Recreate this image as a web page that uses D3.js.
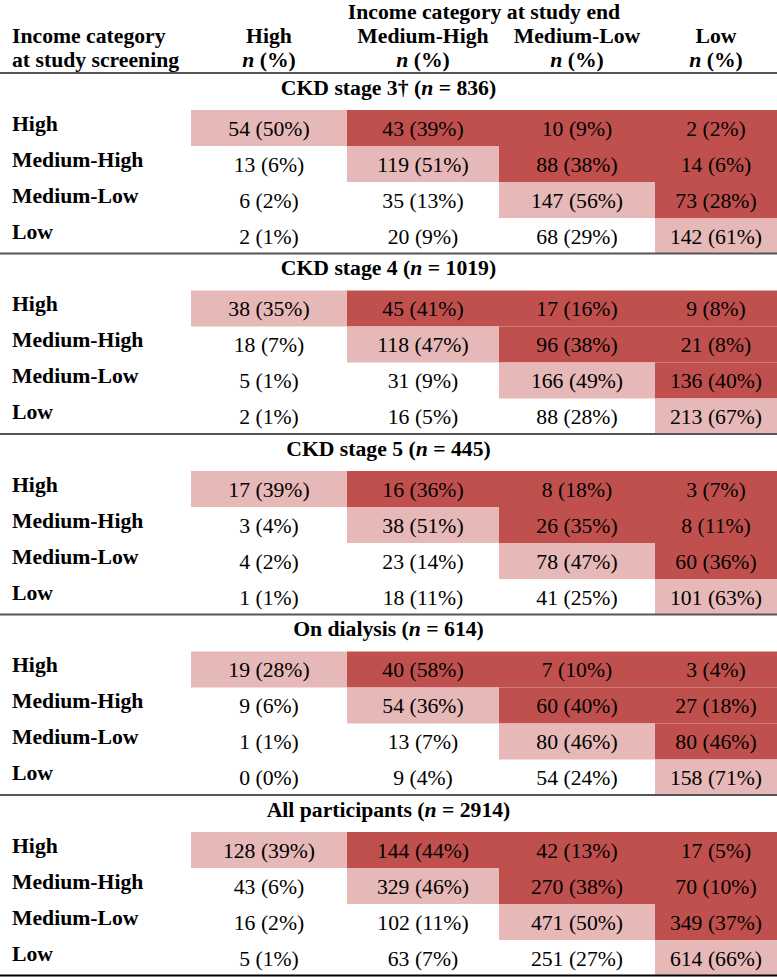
<!DOCTYPE html>
<html>
<head>
<meta charset="utf-8">
<script src="https://cdn.jsdelivr.net/npm/d3@7/dist/d3.min.js"></script>
<style>
  html, body { margin: 0; padding: 0; background: #fff; }
  svg { display: block; }
  text { font-family: "Liberation Serif", "Times New Roman", serif; fill: #000; }
</style>
</head>
<body>
<svg id="chart" width="777" height="977"></svg>
<script>
// ---------- data ----------
const colCategories = ["High", "Medium-High", "Medium-Low", "Low"];
const rowCategories = ["High", "Medium-High", "Medium-Low", "Low"];
const groupNames = ["CKD stage 3\u2020", "CKD stage 4", "CKD stage 5", "On dialysis", "All participants"];
const groupN = [836, 1019, 445, 614, 2914];

const countsStage3 = [[54, 43, 10, 2], [13, 119, 88, 14], [6, 35, 147, 73], [2, 20, 68, 142]];
const pctStage3    = [[50, 39, 9, 2], [6, 51, 38, 6], [2, 13, 56, 28], [1, 9, 29, 61]];
const countsStage4 = [[38, 45, 17, 9], [18, 118, 96, 21], [5, 31, 166, 136], [2, 16, 88, 213]];
const pctStage4    = [[35, 41, 16, 8], [7, 47, 38, 8], [1, 9, 49, 40], [1, 5, 28, 67]];
const countsStage5 = [[17, 16, 8, 3], [3, 38, 26, 8], [4, 23, 78, 60], [1, 18, 41, 101]];
const pctStage5    = [[39, 36, 18, 7], [4, 51, 35, 11], [2, 14, 47, 36], [1, 11, 25, 63]];
const countsDialysis = [[19, 40, 7, 3], [9, 54, 60, 27], [1, 13, 80, 80], [0, 9, 54, 158]];
const pctDialysis    = [[28, 58, 10, 4], [6, 36, 40, 18], [1, 7, 46, 46], [0, 4, 24, 71]];
const countsAll = [[128, 144, 42, 17], [43, 329, 270, 70], [16, 102, 471, 349], [5, 63, 251, 614]];
const pctAll    = [[39, 44, 13, 5], [6, 46, 38, 10], [2, 11, 50, 37], [1, 7, 27, 66]];

const groupCounts = [countsStage3, countsStage4, countsStage5, countsDialysis, countsAll];
const groupPcts = [pctStage3, pctStage4, pctStage5, pctDialysis, pctAll];

// ---------- layout ----------
const W = 777;
const FONT = 21.7;
const colEdges = [191, 347, 499, 655, 777];
const headerLineY = 73;
const bottomLineY = 975.5;
const titleOffset = 21.5;   // baseline of group title below its line
const rowsTop = 37;         // first row top below the group line
const rowH = 36;

const COLOR_DARK = "#C0504D";
const COLOR_LIGHT = "#E6B8B7";

const svg = d3.select("#chart");

const xLeft = d3.scaleOrdinal().domain(colCategories).range(colEdges.slice(0, 4));
const xRight = d3.scaleOrdinal().domain(colCategories).range(colEdges.slice(1));
const xCenter = c => (xLeft(c) + xRight(c)) / 2;

const yGroup = d3.scaleBand().domain(groupNames).range([headerLineY, bottomLineY]).padding(0);
const yRow = d3.scaleBand().domain(rowCategories).range([rowsTop, rowsTop + rowH * 4]).padding(0);

// ---------- header ----------
const header = svg.append("g");
header.append("text")
  .attr("x", (colEdges[0] + colEdges[4]) / 2).attr("y", 18.5)
  .attr("text-anchor", "middle").attr("font-weight", "bold").attr("font-size", FONT)
  .text("Income category at study end");
header.append("text")
  .attr("x", 12).attr("y", 42.5).attr("font-weight", "bold").attr("font-size", FONT)
  .text("Income category");
header.append("text")
  .attr("x", 12).attr("y", 66.5).attr("font-weight", "bold").attr("font-size", FONT)
  .text("at study screening");

colCategories.forEach(c => {
  header.append("text")
    .attr("x", xCenter(c)).attr("y", 42.5)
    .attr("text-anchor", "middle").attr("font-weight", "bold").attr("font-size", FONT)
    .text(c);
  const t = header.append("text")
    .attr("x", xCenter(c)).attr("y", 66.5)
    .attr("text-anchor", "middle").attr("font-weight", "bold").attr("font-size", FONT);
  t.append("tspan").attr("font-style", "italic").text("n");
  t.append("tspan").text(" (%)");
});

// ---------- groups ----------
groupNames.forEach((gname, gi) => {
  const gy = yGroup(gname);
  const g = svg.append("g").attr("transform", `translate(0,${gy})`);

  // cells
  rowCategories.forEach((r, ri) => {
    colCategories.forEach((c, ci) => {
      let fill = null;
      if (ci === ri) fill = COLOR_LIGHT;
      else if (ci > ri) fill = COLOR_DARK;
      if (fill) {
        g.append("rect")
          .attr("x", xLeft(c)).attr("y", yRow(r))
          .attr("width", xRight(c) - xLeft(c)).attr("height", yRow.bandwidth())
          .attr("fill", fill);
      }
    });
  });

  // title
  const t = g.append("text")
    .attr("x", W / 2).attr("y", titleOffset)
    .attr("text-anchor", "middle").attr("font-weight", "bold").attr("font-size", FONT);
  t.append("tspan").text(gname + " (");
  t.append("tspan").attr("font-style", "italic").text("n");
  t.append("tspan").text(" = " + groupN[gi] + ")");

  // row labels & values
  rowCategories.forEach((r, ri) => {
    const cy = yRow(r) + yRow.bandwidth() / 2;
    g.append("text")
      .attr("x", 12).attr("y", cy + 2.5)
      .attr("font-weight", "bold").attr("font-size", FONT)
      .text(r);
    colCategories.forEach((c, ci) => {
      g.append("text")
        .attr("x", xCenter(c)).attr("y", cy + 7.5)
        .attr("text-anchor", "middle").attr("font-size", FONT)
        .text(`${groupCounts[gi][ri][ci]} (${groupPcts[gi][ri][ci]}%)`);
    });
  });

  // separator line at top of group
  g.append("line")
    .attr("x1", 0).attr("x2", W).attr("y1", 0).attr("y2", 0)
    .attr("stroke", "#555").attr("stroke-width", 2);
});

// bottom line
svg.append("line")
  .attr("x1", 0).attr("x2", W).attr("y1", bottomLineY).attr("y2", bottomLineY)
  .attr("stroke", "#000").attr("stroke-width", 2);
</script>
</body>
</html>
